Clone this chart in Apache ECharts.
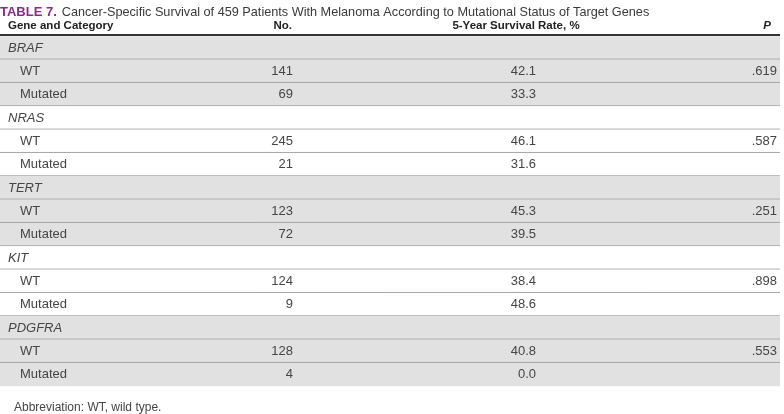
<!DOCTYPE html>
<html>
<head>
<meta charset="utf-8">
<script src="https://cdn.jsdelivr.net/npm/echarts@6/dist/echarts.min.js"></script>
<style>
html,body{margin:0;padding:0;background:#fff;}
#chart{width:784px;height:414px;}
</style>
</head>
<body>
<div id="chart"></div>
<script>
// ---- data ----
var genes = ['BRAF', 'NRAS', 'TERT', 'KIT', 'PDGFRA'];
var categories = ['WT', 'Mutated'];
var wtCount = [141, 245, 123, 124, 128];
var mutCount = [69, 21, 72, 9, 4];
var wtRate = [42.1, 46.1, 45.3, 38.4, 40.8];
var mutRate = [33.3, 31.6, 39.5, 48.6, 0.0];
var pValues = ['.619', '.587', '.251', '.898', '.553'];
var headers = ['Gene and Category', 'No.', '5-Year Survival Rate, %', 'P'];
var titleLabel = 'TABLE 7.';
var titleText = 'Cancer-Specific Survival of 459 Patients With Melanoma According to Mutational Status of Target Genes';
var footnote = 'Abbreviation: WT, wild type.';

// ---- build rows ----
var rows = [];
genes.forEach(function (g, gi) {
  rows.push({kind: 'group', label: g, group: gi});
  rows.push({kind: 'item', label: categories[0], no: wtCount[gi], rate: wtRate[gi], p: pValues[gi], group: gi});
  rows.push({kind: 'item', label: categories[1], no: mutCount[gi], rate: mutRate[gi], p: '', group: gi});
});
var rowIdx = rows.map(function (r, i) { return i; });

var FONT = '"Liberation Sans", Arial, sans-serif';
var TXT = '#454545';
var W = 780;
var COL = {gene: 8, sub: 20, no: 293, rate: 536, p: 777};

var chart = echarts.init(document.getElementById('chart'), null, {renderer: 'canvas'});

chart.setOption({
  animation: false,
  backgroundColor: '#fff',
  title: {
    left: 0, top: 3, padding: 0,
    text: '{a|' + titleLabel + '} {b|' + titleText + '}',
    textStyle: {
      fontWeight: 'normal',
      rich: {
        a: {fontFamily: FONT, fontSize: 13, fontWeight: 'bold', color: '#8a2c87'},
        b: {fontFamily: FONT, fontSize: 12.7, fontWeight: 'normal', color: '#3a3a3a'}
      }
    }
  },
  grid: {left: 0, right: 784 - W, top: 36.3, bottom: 414 - 386.3},
  xAxis: {type: 'value', min: 0, max: W, show: false},
  yAxis: {type: 'category', data: rowIdx, inverse: true, show: false},
  graphic: [
    {type: 'text', left: 8, top: 20, style: {text: headers[0], font: 'bold 11.5px ' + FONT, fill: '#222'}},
    {type: 'text', x: 292, y: 20, style: {text: headers[1], font: 'bold 11.5px ' + FONT, fill: '#222', align: 'right'}},
    {type: 'text', x: 516, y: 20, style: {text: headers[2], font: 'bold 11.5px ' + FONT, fill: '#222', align: 'center'}},
    {type: 'text', x: 771, y: 20, style: {text: headers[3], font: 'italic bold 11.5px ' + FONT, fill: '#222', align: 'right'}},
    {type: 'line', shape: {x1: 0, y1: 35, x2: W, y2: 35}, style: {stroke: '#333', lineWidth: 2}},
    {type: 'text', left: 14, top: 402, style: {text: footnote, font: '12px ' + FONT, fill: TXT}}
  ],
  series: [{
    type: 'custom',
    coordinateSystem: 'cartesian2d',
    data: rowIdx.map(function (i) { return [0, i]; }),
    encode: {x: 0, y: 1},
    renderItem: function (params, api) {
      var i = api.value(1);
      var r = rows[i];
      var c = api.coord([0, i]);
      var h = api.size([0, 1])[1];
      var top = c[1] - h / 2;
      var x0 = api.coord([0, 0])[0];
      var x1 = api.coord([W, 0])[0];
      var cy = c[1];
      var fill = (r.group % 2 === 0) ? '#e1e1e1' : '#ffffff';
      var children = [
        {type: 'rect', shape: {x: x0, y: top, width: x1 - x0, height: h}, style: {fill: fill}}
      ];
      if (i < rows.length - 1) {
        children.push({type: 'line', shape: {x1: x0, y1: top + h - 0.5, x2: x1, y2: top + h - 0.5},
          style: {stroke: '#a5a5a5', lineWidth: 1}});
      }
      if (r.kind === 'group') {
        children.push({type: 'text', x: COL.gene, y: cy,
          style: {text: r.label, font: 'italic 13px ' + FONT, fill: TXT, verticalAlign: 'middle'}});
      } else {
        children.push({type: 'text', x: COL.sub, y: cy,
          style: {text: r.label, font: '13px ' + FONT, fill: TXT, verticalAlign: 'middle'}});
        children.push({type: 'text', x: COL.no, y: cy,
          style: {text: String(r.no), font: '13px ' + FONT, fill: TXT, align: 'right', verticalAlign: 'middle'}});
        children.push({type: 'text', x: COL.rate, y: cy,
          style: {text: r.rate.toFixed(1), font: '13px ' + FONT, fill: TXT, align: 'right', verticalAlign: 'middle'}});
        if (r.p) {
          children.push({type: 'text', x: COL.p, y: cy,
            style: {text: r.p, font: '13px ' + FONT, fill: TXT, align: 'right', verticalAlign: 'middle'}});
        }
      }
      return {type: 'group', children: children};
    }
  }]
});
</script>
</body>
</html>
